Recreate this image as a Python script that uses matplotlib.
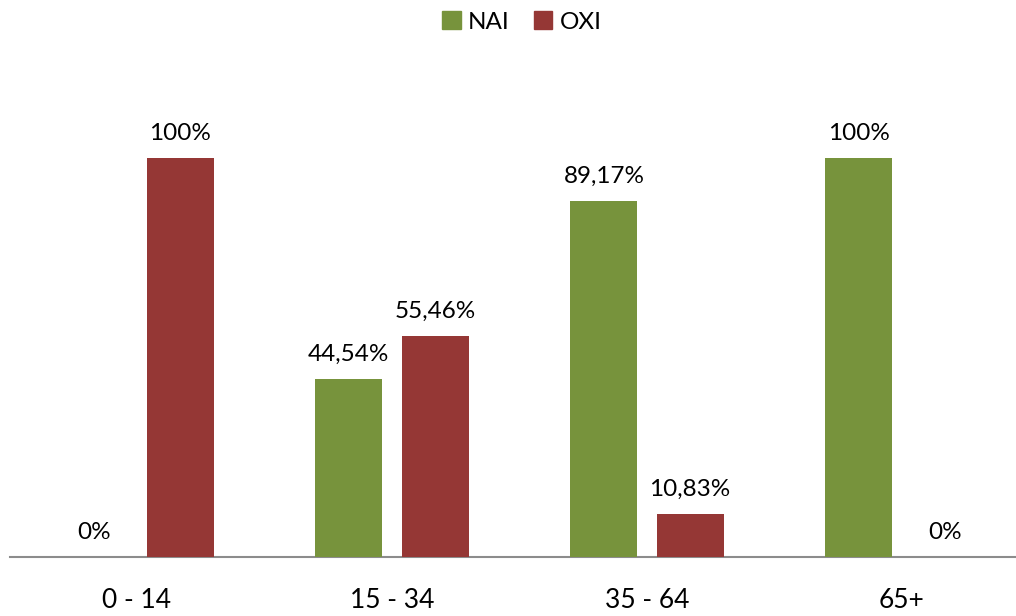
import numpy as np
import matplotlib.pyplot as plt
from matplotlib.patches import Patch

plt.rcParams['font.family'] = ['Lato', 'DejaVu Sans']

categories = ['0 - 14', '15 - 34', '35 - 64', '65+']
nai = [0, 44.54, 89.17, 100]
oxi = [100, 55.46, 10.83, 0]
nai_labels = ['0%', '44,54%', '89,17%', '100%']
oxi_labels = ['100%', '55,46%', '10,83%', '0%']

green = '#77933C'
red = '#953735'

fig = plt.figure(figsize=(10.16, 6.16), dpi=100)
ax = fig.add_axes([9.5 / 1016, 59 / 616, 1020 / 1016, 399 / 616])

x = np.arange(len(categories))
w = 0.263
off = 0.169
ax.bar(x - off, nai, w, color=green, zorder=3)
ax.bar(x + off, oxi, w, color=red, zorder=3)

for xi, v, t in zip(x - off, nai, nai_labels):
    ax.text(xi, v + 3.6, t, ha='center', va='bottom', fontsize=17.5, clip_on=False)
for xi, v, t in zip(x + off, oxi, oxi_labels):
    ax.text(xi, v + 3.6, t, ha='center', va='bottom', fontsize=17.5, clip_on=False)

ax.set_xlim(-0.5, len(categories) - 0.5)
ax.set_ylim(0, 100)
ax.set_xticks(x)
ax.set_xticklabels(categories, fontsize=19)
ax.tick_params(axis='x', length=0, pad=22)
ax.set_yticks([])
for s in ['top', 'right', 'left']:
    ax.spines[s].set_visible(False)
ax.spines['bottom'].set_color('#8c8c8c')
ax.spines['bottom'].set_linewidth(1.5)

handles = [Patch(color=green, label='NAI'), Patch(color=red, label='OXI')]
fig.legend(handles=handles, loc='center', bbox_to_anchor=(522 / 1016, 1 - 22 / 616),
           ncol=2, frameon=False, fontsize=17.5, handlelength=0.75, handleheight=0.75,
           handletextpad=0.3, columnspacing=1.0)

fig.savefig('out.png', dpi=100)
